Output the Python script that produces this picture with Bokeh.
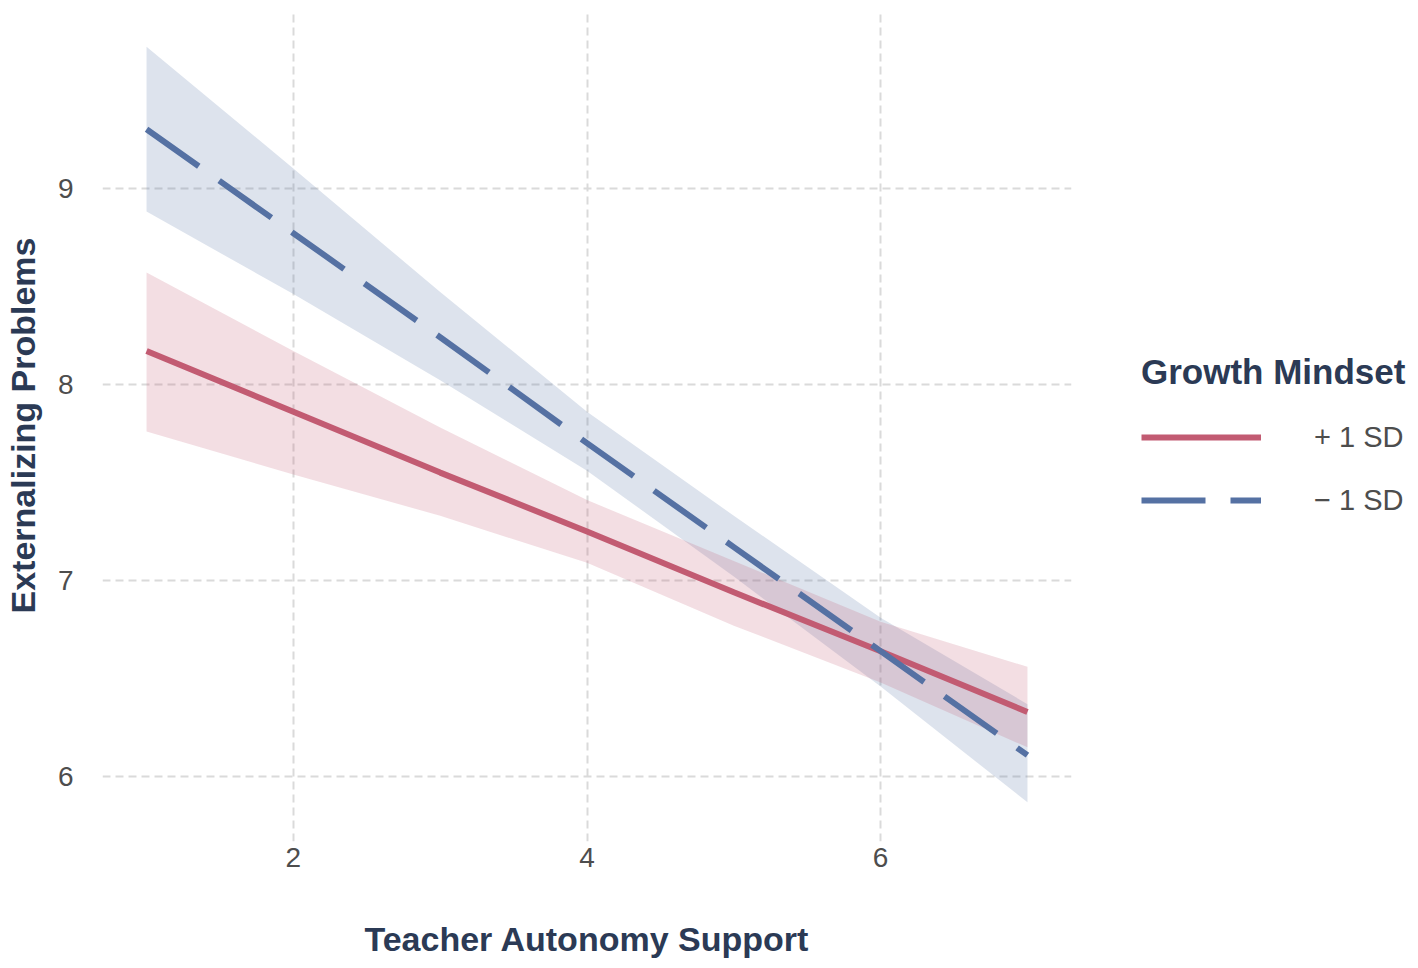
from bokeh.plotting import figure
from bokeh.models import Range1d, Legend, LegendItem, FixedTicker
from bokeh.embed import file_html
from bokeh.resources import INLINE

# ---- data ----
xs = [1, 2, 3, 4, 5, 6, 7]
plus_fit = [8.17, 7.86, 7.55, 7.25, 6.94, 6.64, 6.33]
plus_lo = [7.76, 7.54, 7.33, 7.09, 6.77, 6.48, 6.15]
plus_hi = [8.57, 8.17, 7.78, 7.41, 7.10, 6.79, 6.56]
minus_fit = [9.30, 8.77, 8.24, 7.70, 7.17, 6.64, 6.11]
minus_lo = [8.88, 8.46, 8.02, 7.56, 7.02, 6.46, 5.87]
minus_hi = [9.72, 9.10, 8.47, 7.86, 7.33, 6.81, 6.37]
x_ticks = [2, 4, 6]
y_ticks = [6, 7, 8, 9]
labels = ["+ 1 SD", "\u2212 1 SD"]

RED = "#C25B72"
BLUE = "#5571A3"
NAVY = "#2B3A55"
GREY = "#4D4D4D"
FONT = "Liberation Sans"

p = figure(frame_width=969, frame_height=832, output_backend="svg", toolbar_location=None,
           x_range=Range1d(0.7, 7.3), y_range=Range1d(5.67, 9.91),
           min_border_left=98, min_border_right=340, min_border_top=9, min_border_bottom=112)
p.outline_line_color = None
p.background_fill_color = "white"
p.border_fill_color = "white"

for g in (p.xgrid[0], p.ygrid[0]):
    g.grid_line_color = "#DADADA"
    g.grid_line_width = 2
    g.grid_line_dash = "8 5"

p.xaxis.ticker = FixedTicker(ticks=x_ticks)
p.yaxis.ticker = FixedTicker(ticks=y_ticks)
for ax in (p.xaxis[0], p.yaxis[0]):
    ax.axis_line_color = None
    ax.major_tick_line_color = None
    ax.minor_tick_line_color = None
    ax.major_label_text_font = FONT
    ax.major_label_text_font_size = "28px"
    ax.major_label_text_color = GREY
    ax.axis_label_text_font = FONT
    ax.axis_label_text_font_size = "34px"
    ax.axis_label_text_font_style = "bold"
    ax.axis_label_text_color = NAVY
p.xaxis.axis_label = "Teacher Autonomy Support"
p.yaxis.axis_label = "Externalizing Problems"
p.xaxis.major_label_standoff = 0
p.yaxis.major_label_standoff = 23
p.xaxis.axis_label_standoff = 50
p.yaxis.axis_label_standoff = 13

p.varea(x=xs, y1=minus_lo, y2=minus_hi, fill_color=BLUE, fill_alpha=0.2)
p.varea(x=xs, y1=plus_lo, y2=plus_hi, fill_color=RED, fill_alpha=0.2)
r_plus = p.line(xs, plus_fit, line_color=RED, line_width=6)
r_minus = p.line(xs, minus_fit, line_color=BLUE, line_width=6, line_dash="64 25")

legend = Legend(items=[LegendItem(label=labels[0], renderers=[r_plus]),
                       LegendItem(label=labels[1], renderers=[r_minus])],
                location=(70, 321))
legend.title = "Growth Mindset"
legend.title_text_font = FONT
legend.title_text_font_size = "35px"
legend.title_text_font_style = "bold"
legend.title_text_color = NAVY
legend.title_standoff = 25
legend.label_text_font = FONT
legend.label_text_font_size = "29px"
legend.label_text_color = GREY
legend.glyph_width = 120
legend.glyph_height = 40
legend.label_height = 40
legend.label_standoff = 53
legend.spacing = 23
legend.padding = 0
legend.margin = 0
legend.border_line_color = None
legend.background_fill_alpha = 0
p.add_layout(legend, "right")

open("out.html", "w").write(file_html(p, INLINE))
